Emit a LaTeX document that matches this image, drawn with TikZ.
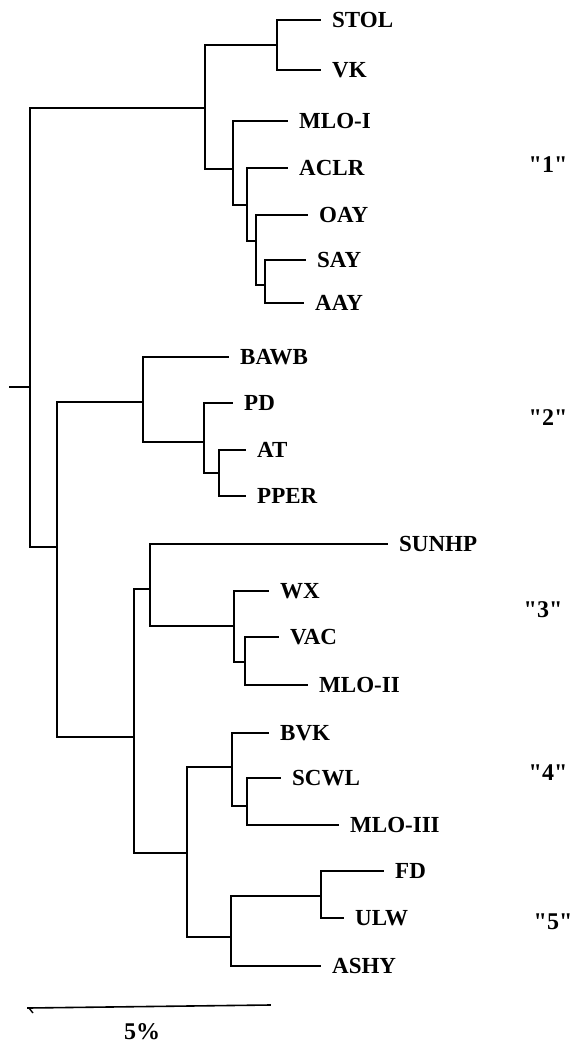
\documentclass[tikz,border=0pt]{standalone}
\usepackage{fontspec}
\setmainfont{Liberation Serif}

\begin{document}
\begin{tikzpicture}[x=1pt, y=-1pt,
    branch/.style={line width=1.6pt, line cap=rect},
    taxon/.style={anchor=west, inner xsep=12pt, inner ysep=0pt,
                  font=\fontsize{23}{27}\selectfont\bfseries},
    cluster/.style={font=\fontsize{24}{28}\selectfont\bfseries}]
  \useasboundingbox (0,0) rectangle (579,1043);

  % Internal nodes (x of the vertical bar, y where the parent joins)
  \coordinate (stub) at (10,387);
  \coordinate (root) at (30,387);
  \coordinate (c1)  at (205,108);
  \coordinate (c1a) at (277,45);
  \coordinate (c1b) at (233,169);
  \coordinate (c1c) at (247,205);
  \coordinate (c1d) at (256,241);
  \coordinate (c1e) at (265,285);
  \coordinate (c2)  at (57,547);
  \coordinate (c2a) at (143,402);
  \coordinate (c2b) at (204,442);
  \coordinate (c2c) at (219,473);
  \coordinate (c3)  at (134,737);
  \coordinate (c3a) at (150,589);
  \coordinate (c3b) at (234,626);
  \coordinate (c3c) at (245,662);
  \coordinate (c4)  at (187,853);
  \coordinate (c4a) at (232,767);
  \coordinate (c4b) at (247,806);
  \coordinate (c5)  at (231,937);
  \coordinate (c5a) at (321,896);

  % Leaves
  \foreach \n/\x/\y/\t in {stol/320/20/STOL, vk/320/70/VK, mloi/287/121/MLO-I,
      aclr/287/168/ACLR, oay/307/215/OAY, say/305/260/SAY, aay/303/303/AAY,
      bawb/228/357/BAWB, pd/232/403/PD, at/245/450/AT, pper/245/496/PPER,
      sunhp/387/544/SUNHP, wx/268/591/WX, vac/278/637/VAC, mloii/307/685/MLO-II,
      bvk/268/733/BVK, scwl/280/778/SCWL, mloiii/338/825/MLO-III,
      fd/383/871/FD, ulw/343/918/ULW, ashy/320/966/ASHY}
    \node[taxon] (\n) at (\x,\y) {\t};

  % Branches
  \draw[branch] (stub) -- (root);
  \foreach \p/\c in {root/c1, root/c2,
      c1/c1a, c1/c1b, c1a/stol, c1a/vk, c1b/mloi, c1b/c1c, c1c/aclr, c1c/c1d,
      c1d/oay, c1d/c1e, c1e/say, c1e/aay,
      c2/c2a, c2/c3, c2a/bawb, c2a/c2b, c2b/pd, c2b/c2c, c2c/at, c2c/pper,
      c3/c3a, c3/c4, c3a/sunhp, c3a/c3b, c3b/wx, c3b/c3c, c3c/vac, c3c/mloii,
      c4/c4a, c4/c5, c4a/bvk, c4a/c4b, c4b/scwl, c4b/mloiii,
      c5/c5a, c5/ashy, c5a/fd, c5a/ulw}
    \draw[branch] (\p) |- (\c);

  % Cluster labels
  \node[cluster] (g1) at (548,165) {\textquotedbl 1\textquotedbl};
  \node[cluster] (g2) at (548,418) {\textquotedbl 2\textquotedbl};
  \node[cluster] (g3) at (543,610) {\textquotedbl 3\textquotedbl};
  \node[cluster] (g4) at (548,773) {\textquotedbl 4\textquotedbl};
  \node[cluster] (g5) at (553,922) {\textquotedbl 5\textquotedbl};

  % Scale bar
  \coordinate (sbl) at (28,1008);
  \coordinate (sbr) at (270,1005);
  \coordinate (tick) at (33,1013);
  \draw[branch] (sbl) -- (sbr);
  \draw[line width=1.4pt] (tick) -- ++(-4,-5);
  \node[cluster] (pct) at (142,1032) {5\%};
\end{tikzpicture}
\end{document}
